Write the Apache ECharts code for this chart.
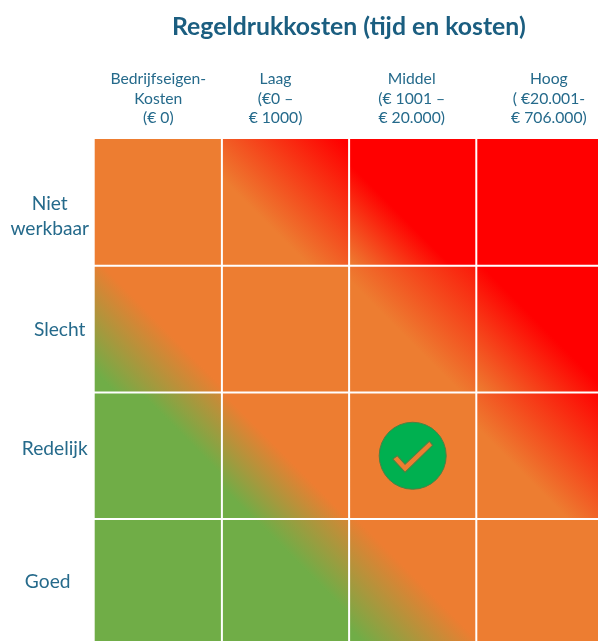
<!DOCTYPE html>
<html>
<head>
<meta charset="utf-8">
<style>html,body{margin:0;padding:0;background:#fff;overflow:hidden}#c{width:598px;height:641px}</style>
<script src="https://cdn.jsdelivr.net/npm/echarts@6/dist/echarts.min.js"></script>
</head>
<body>
<div id="c"></div>
<script>
const titleText = 'Regeldrukkosten (tijd en kosten)';
const costCategories = ['Bedrijfseigen-\nKosten\n(€ 0)', 'Laag\n(€0 –\n€ 1000)', 'Middel\n(€ 1001 –\n€ 20.000)', 'Hoog\n( €20.001-\n€ 706.000)'];
const workCategories = ['Niet\nwerkbaar', 'Slecht', 'Redelijk', 'Goed'];
// Positions along each cell's lower-left to upper-right diagonal (0..1)
const greenEnd = [
  [null, null, null, null],
  [0.08, null, null, null],
  [0.68, 0.12, null, null],
  [1.00, 0.63, 0.06, null]
];
const orangeStart = [
  [0.00, 0.00, 0.00, null],
  [0.53, 0.00, 0.00, 0.00],
  [1.10, 0.50, 0.00, 0.00],
  [null, 1.10, 0.53, 0.00]
];
const orangeEnd = [
  [1.00, 0.34, 0.00, null],
  [1.00, 1.00, 0.44, 0.00],
  [null, 1.00, 1.00, 0.36],
  [null, null, 1.00, 1.00]
];
const redStart = [
  [null, 0.97, 0.40, 0.00],
  [null, null, 1.15, 0.52],
  [null, null, null, 1.00],
  [null, null, null, null]
];
const currentPosition = [2, 2]; // Middel, Redelijk

const GREEN = '#70AD47', ORANGE = '#ED7D31', RED = '#FF0000', TEXT = '#256A8B';
const colShift = [0, -10, -1, 9];                 // label offset from the column centre
const rowShift = [[0, 14], [10, 1], [5, -7], [-2, -1]]; // [dx, dy] from the row label anchor

function cellFill(r, c) {
  const s = [];
  if (greenEnd[r][c] !== null) s.push([greenEnd[r][c], GREEN]);
  if (orangeStart[r][c] !== null) s.push([orangeStart[r][c], ORANGE]);
  if (orangeEnd[r][c] !== null) s.push([orangeEnd[r][c], ORANGE]);
  if (redStart[r][c] !== null) s.push([redStart[r][c], RED]);
  if (s.length === 1) return s[0][1];
  const max = Math.max(1, s[s.length - 1][0]);
  return new echarts.graphic.LinearGradient(0, 1, max, 1 - max,
    s.map(p => ({ offset: p[0] / max, color: p[1] })));
}

const cells = [];
workCategories.forEach((w, r) => costCategories.forEach((k, c) => cells.push([c, r])));

const colRich = {}, rowRich = {};
colShift.forEach((d, i) => {
  colRich['c' + i] = { color: TEXT, fontFamily: 'Lato', fontSize: 15.7, lineHeight: 19.5,
    padding: d < 0 ? [0, -2 * d, 0, 0] : [0, 0, 0, 2 * d] };
});
rowShift.forEach((d, i) => {
  rowRich['r' + i] = { color: TEXT, fontFamily: 'Lato', fontSize: 19.2, lineHeight: 25,
    padding: [d[1] > 0 ? 2 * d[1] : 0, d[0] < 0 ? -2 * d[0] : 0, d[1] < 0 ? -2 * d[1] : 0, d[0] > 0 ? 2 * d[0] : 0] };
});

const chart = echarts.init(document.getElementById('c'), null, { renderer: 'canvas' });
chart.setOption({
  animation: false,
  backgroundColor: '#fff',
  title: {
    text: titleText, left: 167, top: 10,
    textStyle: { color: '#1B5E80', fontFamily: 'Lato', fontWeight: 'bold', fontSize: 24.8 }
  },
  grid: { left: 94.7, top: 139, width: 508.8, height: 506.8, containLabel: false, outerBoundsMode: 'none' },
  xAxis: {
    type: 'category', position: 'top', data: costCategories,
    axisLine: { show: false }, axisTick: { show: false }, splitLine: { show: false },
    axisLabel: {
      interval: 0, margin: 11, align: 'center', verticalAlign: 'bottom', hideOverlap: false,
      formatter: (v, i) => v.split('\n').map(l => `{c${i}|${l}}`).join('\n'),
      rich: colRich
    }
  },
  yAxis: {
    type: 'category', inverse: true, data: workCategories,
    axisLine: { show: false }, axisTick: { show: false }, splitLine: { show: false },
    axisLabel: {
      interval: 0, margin: 45, align: 'center', verticalAlign: 'middle', hideOverlap: false,
      formatter: (v, i) => v.split('\n').map(l => `{r${i}|${l}}`).join('\n'),
      rich: rowRich
    }
  },
  series: [
    {
      type: 'custom', coordinateSystem: 'cartesian2d', silent: true, clip: false,
      data: cells,
      renderItem: (params, api) => {
        const c = api.value(0), r = api.value(1);
        const p = api.coord([c, r]), size = api.size([1, 1]);
        return {
          type: 'rect',
          shape: { x: p[0] - size[0] / 2 + (c ? 1 : 0), y: p[1] - size[1] / 2 + (r ? 1 : 0),
                   width: size[0] - (c ? 2 : 1), height: size[1] - (r ? 2 : 1) },
          style: { fill: cellFill(r, c) }
        };
      }
    },
    {
      type: 'scatter', silent: true, z: 5, symbol: 'circle', symbolSize: 67,
      itemStyle: { color: '#00B050', borderColor: '#4E8044', borderWidth: 1, opacity: 1 },
      data: [currentPosition]
    },
    {
      type: 'scatter', silent: true, z: 6,
      symbol: 'path://M158 222L172 212L195 238L268 168L278 180L195 262Z',
      symbolSize: [40, 31], symbolOffset: [0, 1], symbolKeepAspect: false,
      itemStyle: { color: ORANGE, borderColor: '#4E8044', borderWidth: 1, opacity: 1 },
      data: [currentPosition]
    }
  ]
});
</script>
</body>
</html>
